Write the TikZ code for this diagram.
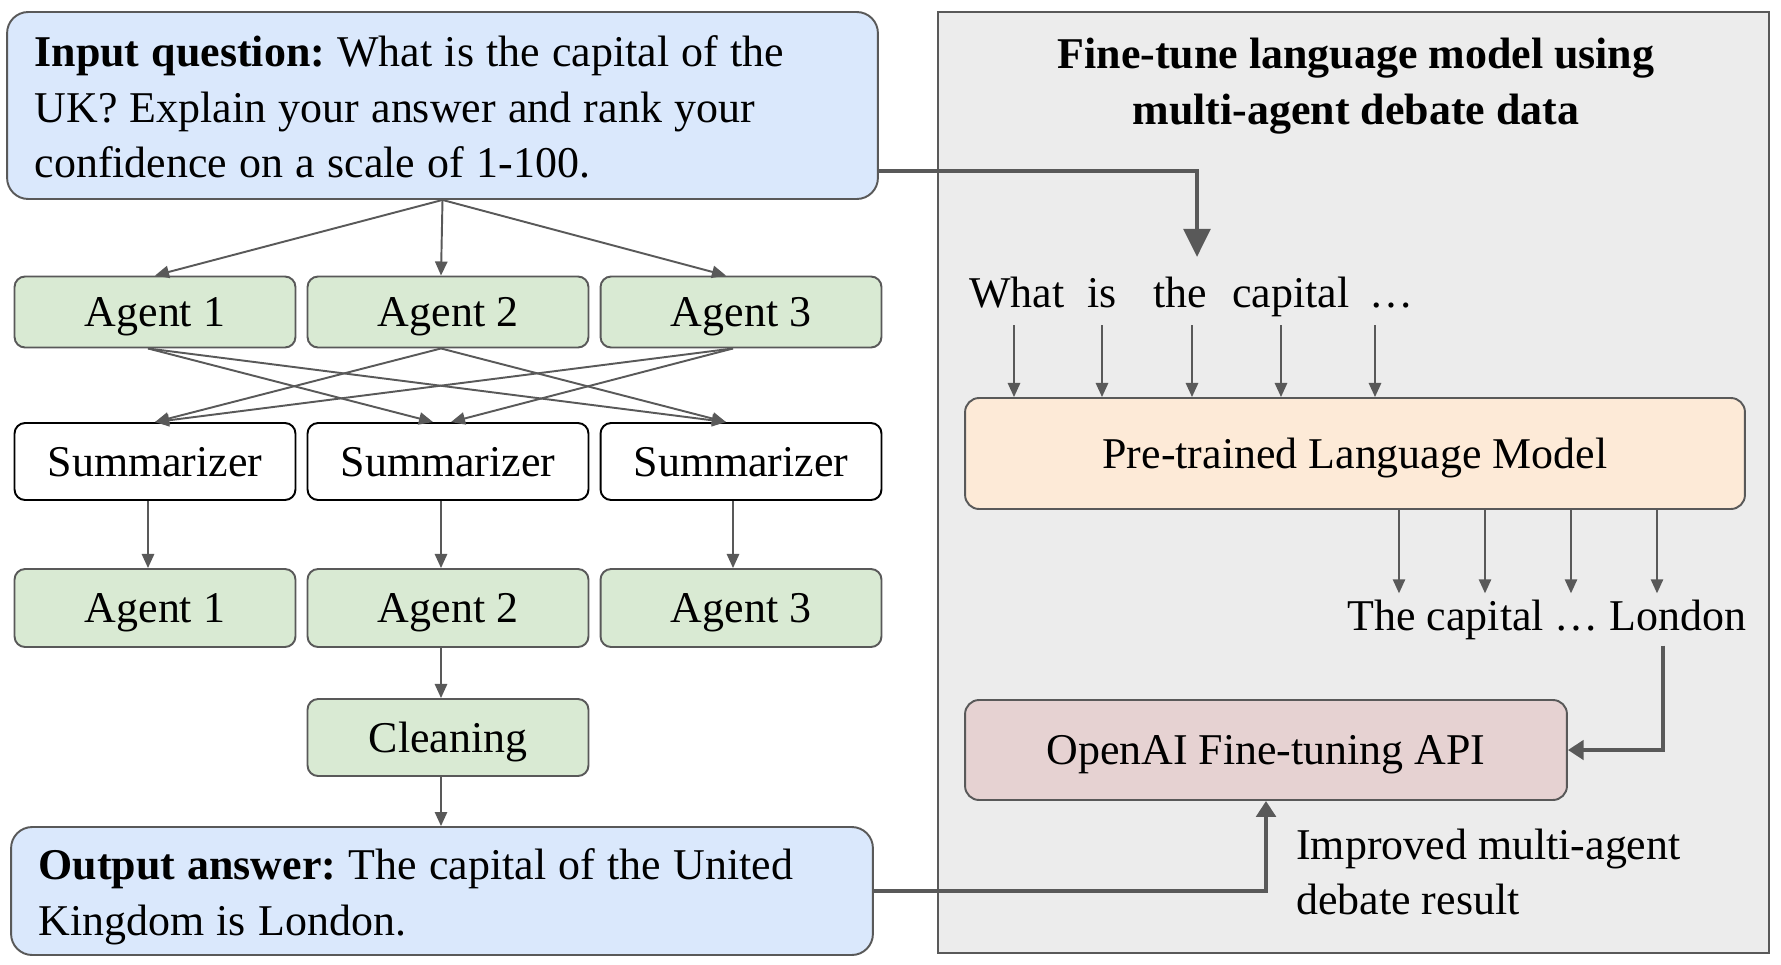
\documentclass[tikz,border=0pt]{standalone}
\usepackage{fontspec}
\setmainfont{Liberation Serif}
\frenchspacing
\usetikzlibrary{positioning,arrows.meta,calc}
\definecolor{qblue}{HTML}{DAE8FC}
\definecolor{agreen}{HTML}{D9EAD3}
\definecolor{lmorange}{HTML}{FDEAD7}
\definecolor{apipink}{HTML}{E6D2D2}
\definecolor{panelgray}{HTML}{ECECEC}
\definecolor{edgegray}{HTML}{595959}
% tighter word spacing for the long question/answer texts
\newcommand{\debatespacing}{\spaceskip 0.28em\relax}
\tikzset{
    debate_text/.style={font=\fontsize{25}{31.5}\selectfont},
    % Question and answer boxes: wide, left aligned text
    debate_qa/.style={draw=edgegray, line width=1.1pt, fill=qblue, rounded corners=12pt,
        align=left, inner xsep=0.55cm, debate_text},
    % One-line boxes, baseline pushed a little down
    debate_box/.style={line width=1.1pt, text height=22pt, text depth=5.5pt, debate_text},
    debate_agent/.style={debate_box, draw=edgegray, fill=agreen, rounded corners=6pt,
        minimum width=5.62cm},
    debate_summ/.style={debate_box, draw=black, fill=white, rounded corners=6pt,
        minimum width=5.62cm, minimum height=1.54cm},
    debate_lm/.style={debate_box, draw=edgegray, fill=lmorange, rounded corners=8pt,
        minimum width=15.6cm, minimum height=2.22cm},
    debate_api/.style={debate_box, draw=edgegray, fill=apipink, rounded corners=8pt,
        minimum width=12.04cm, minimum height=2cm},
    debate_token/.style={debate_text},
    % Connectors
    debate_arr/.style={draw=edgegray, line width=1.1pt, -{Triangle[length=8pt,width=7pt]}},
    debate_bigarr/.style={draw=edgegray, line width=2.6pt, -{Triangle[length=16pt,width=15pt]}},
    debate_medarr/.style={draw=edgegray, line width=2.6pt, -{Triangle[length=9pt,width=11pt]}},
}
\begin{document}
\begin{tikzpicture}[x=0.02cm, y=-0.02cm]
    \useasboundingbox (0,0) rectangle (1781,964);

    % Right panel: fine-tuning
    \node[draw=edgegray, line width=1.1pt, fill=panelgray, minimum width=16.62cm,
        minimum height=18.82cm] (panel) at (1353.5,482.5) {};
    \node[font=\fontsize{25}{32}\selectfont\bfseries, align=center] (title)
        at (1356,86) {Fine-tune language model using\\multi-agent debate data};

    % Left column: the debate
    \node[debate_qa, minimum height=3.74cm, text width=16.32cm, text height=19.5pt] (question)
        at (442.5,105.5)
        {\debatespacing\textbf{Input question:} What is the capital of the\\UK? Explain your answer and rank your\\confidence on a scale of 1-100.};

    \foreach \i/\x/\c in {1/155/148,2/448/441,3/741/733} {
        \coordinate (col\i) at (\c,0);
        \node[debate_agent, minimum height=1.42cm] (agent\i) at (\x,312) {Agent \i};
        \node[debate_summ] (summ\i) at (\x,461.5) {Summarizer};
        \node[debate_agent, minimum height=1.56cm] (agentb\i) at (\x,608) {Agent \i};
    }
    \node[debate_agent, minimum height=1.54cm] (clean) at (448,737.5) {Cleaning};

    \node[debate_qa, minimum height=2.56cm, text width=16.14cm, text height=24pt] (answer)
        at (442,891)
        {\debatespacing\textbf{Output answer:} The capital of the United\\Kingdom is London.};

    % Debate arrows
    \foreach \i/\e in {1/155,2/441,3/726}
        \draw[debate_arr] (question.south) -- (agent\i.north -| \e,0);
    \foreach \a/\b/\e in {1/2/433,1/3/726,2/1/155,2/3/726,3/1/155,3/2/451}
        \draw[debate_arr] (agent\a.south -| col\a) -- (summ\b.north -| \e,0);
    \foreach \i in {1,2,3} \draw[debate_arr] (summ\i.south -| col\i) -- (agentb\i.north -| col\i);
    \draw[debate_arr] (agentb2.south -| col2) -- (clean.north -| col2);
    \draw[debate_arr] (clean.south -| col2) -- (answer.north -| col2);

    % Tokens in and out of the language model
    \node[debate_lm] (lm) at (1355,453.5) {Pre-trained Language Model};
    \foreach \i/\x/\w/\ax in {1/1017/What/1014,2/1102/is/1102,3/1180/the/1192,4/1291/capital/1281,5/1391/\ldots/1375} {
        \node[debate_token, anchor=base] (tok\i) at (\x,307) {\w};
        \draw[debate_arr] (tok\i.base -| \ax,0) ++(0,18) -- (lm.north -| \ax,0);
    }
    \node[debate_token, anchor=base] (gen) at (1547,630) {The capital \ldots\ London};
    \foreach \x in {1399,1485,1571,1657}
        \draw[debate_arr] (lm.south -| \x,0) -- (gen.north -| \x,0);

    \node[debate_api] (api) at (1266,750) {OpenAI Fine-tuning API};
    \node[debate_token, align=left, anchor=west, inner sep=0pt] (improved) at (1296,872)
        {Improved multi-agent\\debate result};

    % Thick connectors
    \coordinate (qexit) at (878,171);
    \coordinate (tokin) at (1197,257);
    \draw[debate_bigarr] (qexit) -| (tokin);
    \draw[debate_medarr] (gen.south -| 1663,0) |- (api.east);
    \draw[debate_medarr] (answer.east) -| (api.south);
\end{tikzpicture}
\end{document}
